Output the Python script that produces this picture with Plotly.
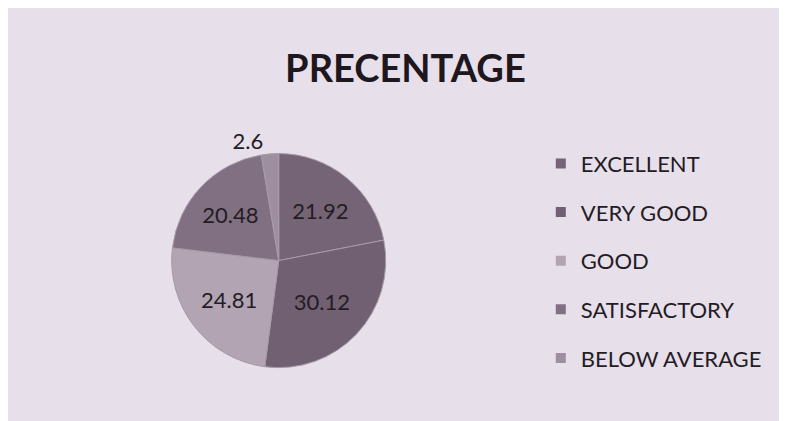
import plotly.graph_objects as go

labels = ['EXCELLENT', 'VERY GOOD', 'GOOD', 'SATISFACTORY', 'BELOW AVERAGE']
values = [21.92, 30.12, 24.81, 20.48, 2.6]
colors = ['#746476', '#706072', '#b2a4b3', '#807082', '#9d8f9f']
positions = ['inside', 'inside', 'inside', 'inside', 'outside']

fig = go.Figure()

fig.add_trace(go.Pie(
    labels=labels,
    values=values,
    sort=False,
    direction='clockwise',
    rotation=0,
    marker=dict(colors=colors, line=dict(color='#a89aa9', width=1)),
    texttemplate='%{value}',
    textposition=positions,
    insidetextorientation='horizontal',
    textfont=dict(family='Lato', size=22, color='#241c24'),
    showlegend=False,
    domain=dict(x=[0.208, 0.480], y=[0.144, 0.656]),
))

# separate legend entries so the spacing between items can be widened
for i, name in enumerate(labels):
    fig.add_trace(go.Scatter(
        x=[None], y=[None],
        mode='markers',
        name=name,
        legendgroup=name,
        marker=dict(symbol='square', size=10, color=colors[i]),
    ))

fig.update_layout(
    width=787,
    height=421,
    margin=dict(l=0, r=0, t=0, b=0),
    paper_bgcolor='#e7dfea',
    plot_bgcolor='#e7dfea',
    xaxis=dict(visible=False),
    yaxis=dict(visible=False),
    title=dict(text='<b>PRECENTAGE</b>', x=0.505, xanchor='center', y=0.855, yanchor='middle',
               font=dict(family='Lato', size=38, color='#1e181e')),
    legend=dict(
        x=0.677, xanchor='left', y=0.68, yanchor='top',
        font=dict(family='Lato', size=22, color='#241c24'),
        tracegroupgap=17,
        itemwidth=30,
        bgcolor='rgba(0,0,0,0)',
    ),
)

fig.write_html('out.html')
